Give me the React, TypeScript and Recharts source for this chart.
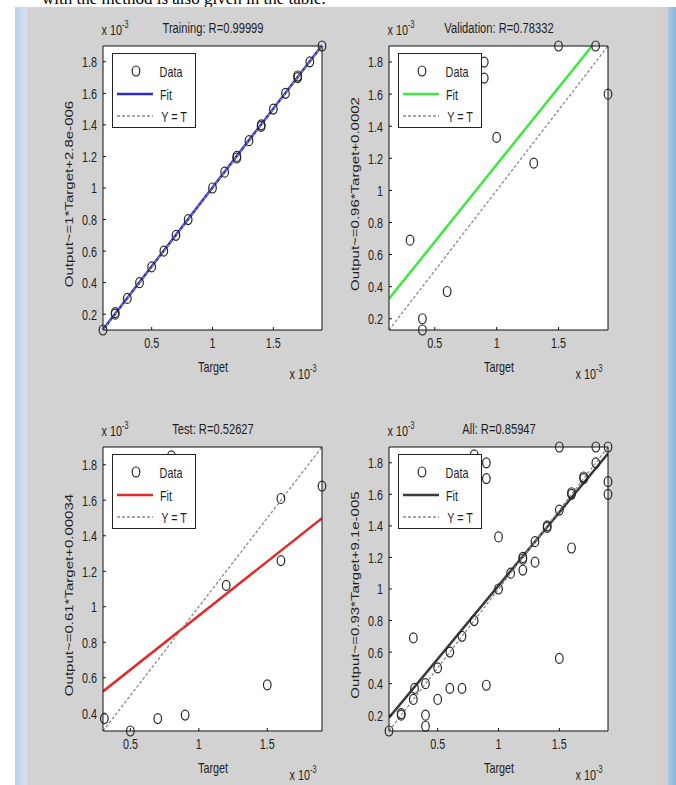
import React from "react";
import { ScatterChart, Scatter, XAxis, YAxis, ReferenceLine, CartesianGrid } from "recharts";

// all values in units of 1e-3
const X_TICKS = [0.5, 1, 1.5];
const Y_TICKS = [0.2, 0.4, 0.6, 0.8, 1, 1.2, 1.4, 1.6, 1.8];
const Y_TICKS_TEST = [0.4, 0.6, 0.8, 1, 1.2, 1.4, 1.6, 1.8];

const TRAIN_T = [0.1, 0.2, 0.2, 0.3, 0.4, 0.5, 0.6, 0.7, 0.8, 1.0, 1.1, 1.2, 1.2, 1.3, 1.4, 1.4, 1.5, 1.6, 1.7, 1.7, 1.8, 1.9];
const TRAIN_Y = [0.1, 0.2, 0.21, 0.3, 0.4, 0.5, 0.6, 0.7, 0.8, 1.0, 1.1, 1.2, 1.19, 1.3, 1.4, 1.39, 1.5, 1.6, 1.7, 1.71, 1.8, 1.9];

const VAL_T = [0.3, 0.4, 0.4, 0.6, 0.9, 0.9, 1.0, 1.3, 1.5, 1.8, 1.9];
const VAL_Y = [0.69, 0.2, 0.13, 0.37, 1.8, 1.7, 1.33, 1.17, 1.9, 1.9, 1.6];

const TEST_T = [0.31, 0.5, 0.7, 0.8, 0.9, 1.2, 1.5, 1.6, 1.6, 1.9];
const TEST_Y = [0.37, 0.3, 0.37, 1.85, 0.39, 1.12, 0.56, 1.26, 1.61, 1.68];

const ALL_T = [...TRAIN_T, ...VAL_T, ...TEST_T];
const ALL_Y = [...TRAIN_Y, ...VAL_Y, ...TEST_Y];

const SQ = 0.72; // the screenshot is squeezed sideways
const FONT = "'Liberation Sans', Arial, sans-serif";
const PW = 219;
const PH = 284;
const ML = 64;
const MT = 28;
const MR = 16;
const MB = 50;
const DIAG = "#8a8a8a";

function SqTick(props: any) {
  const { x, y, payload, textAnchor } = props;
  const dy = textAnchor === "middle" ? "0.71em" : "0.36em";
  return (
    <g transform={`translate(${x},${y}) scale(${SQ},1)`}>
      <text x={0} y={0} dy={dy} textAnchor={textAnchor} fontSize={15} fill="#222" fontFamily={FONT}>
        {payload.value}
      </text>
    </g>
  );
}

const Ring = (p: any) => (
  <ellipse cx={p.cx} cy={p.cy} rx={3.8} ry={5} fill="none" stroke="#262626" strokeWidth={1.2} />
);

function Txt({ x, y, children, rot, size = 15 }: any) {
  return (
    <div
      style={{
        position: "absolute",
        left: x,
        top: y,
        whiteSpace: "nowrap",
        fontFamily: FONT,
        fontSize: size,
        lineHeight: 1,
        color: "#1e1e1e",
        transform: rot ? `translate(-50%,-50%) rotate(-90deg) scale(1,${SQ})` : `translate(-50%,-50%) scale(${SQ},1)`,
      }}
    >
      {children}
    </div>
  );
}

function Exp() {
  return (
    <span>
      x 10<sup style={{ fontSize: 10, verticalAlign: 7 }}>-3</sup>
    </span>
  );
}

function LegendBox({ x, y, color }: any) {
  return (
    <div style={{ position: "absolute", left: x, top: y, width: 84, height: 75, background: "#fff", border: "1px solid #222", boxSizing: "border-box" }}>
      <svg width={84} height={75} style={{ position: "absolute", left: -1, top: -1 }}>
        <ellipse cx={24} cy={18} rx={3.8} ry={5} fill="none" stroke="#262626" strokeWidth={1.2} />
        <line x1={5} x2={41} y1={41} y2={41} stroke={color} strokeWidth={2.5} />
        <line x1={5} x2={41} y1={63} y2={63} stroke={DIAG} strokeWidth={1.3} strokeDasharray="3 2" />
      </svg>
      <Txt x={58} y={17}>Data</Txt>
      <Txt x={53} y={40}>Fit</Txt>
      <Txt x={61} y={62}>Y = T</Txt>
    </div>
  );
}

function Panel({ left, top, title, ylabel, t, y, lo, hi, slope, icpt, color, yTicks }: any) {
  const pts = t.map((v: number, i: number) => ({ x: v, y: y[i] }));
  const axisStyle = { stroke: "#111" };
  return (
    <>
      <div style={{ position: "absolute", left: left - ML, top: top - MT }}>
        <ScatterChart width={ML + PW + MR} height={MT + PH + MB} margin={{ top: MT - 1, right: MR - 1, bottom: 0, left: 0 }}>
          <CartesianGrid fill="#fff" stroke="none" />
          <XAxis type="number" dataKey="x" domain={[lo, hi]} ticks={X_TICKS} height={MB} tickSize={-3} tickMargin={10}
            axisLine={axisStyle} tickLine={axisStyle} tick={<SqTick />} interval={0} />
          <XAxis xAxisId="top" orientation="top" type="number" domain={[lo, hi]} ticks={X_TICKS} height={1} tickSize={-3}
            axisLine={axisStyle} tickLine={axisStyle} tick={false} interval={0} />
          <YAxis type="number" dataKey="y" domain={[lo, hi]} ticks={yTicks} width={ML} tickSize={-3} tickMargin={9}
            axisLine={axisStyle} tickLine={axisStyle} tick={<SqTick />} interval={0} />
          <YAxis yAxisId="right" orientation="right" type="number" domain={[lo, hi]} ticks={yTicks} width={1} tickSize={-3}
            axisLine={axisStyle} tickLine={axisStyle} tick={false} interval={0} />
          <ReferenceLine segment={[{ x: lo, y: slope * lo + icpt }, { x: hi, y: slope * hi + icpt }]}
            stroke={color} strokeWidth={2.5} ifOverflow="hidden" />
          <ReferenceLine segment={[{ x: lo, y: lo }, { x: hi, y: hi }]} stroke={DIAG} strokeWidth={1.3}
            strokeDasharray="3 2" ifOverflow="hidden" />
          <Scatter data={pts} shape={Ring} isAnimationActive={false} />
        </ScatterChart>
      </div>
      <LegendBox x={left + 9} y={top + 7} color={color} />
      <Txt x={left + PW / 2} y={top - 18} size={15.5}>{title}</Txt>
      <Txt x={left + 12} y={top - 18}><Exp /></Txt>
      <Txt x={left - 34} y={top + PH / 2 + 6} rot>{ylabel}</Txt>
      <Txt x={left + PW / 2} y={top + PH + 36}>Target</Txt>
      <Txt x={left + 200} y={top + PH + 42}><Exp /></Txt>
    </>
  );
}

export default function App() {
  return (
    <div style={{ position: "absolute", left: 0, top: 0, width: 676, height: 785, overflow: "hidden", background: "#fff" }}>
      <div style={{ position: "absolute", left: 42, top: -11, fontFamily: "'Liberation Serif', 'Times New Roman', serif", fontSize: 17, lineHeight: "20px", whiteSpace: "nowrap" }}>
        with the method is also given in the table.
      </div>
      <div style={{ position: "absolute", left: 15, top: 7, width: 12, height: 778, background: "linear-gradient(90deg,#b9d0e8,#d5e2ee)" }} />
      <div style={{ position: "absolute", left: 27, top: 7, width: 628, height: 778, background: "#d2d2d2" }} />
      <div style={{ position: "absolute", left: 655, top: 7, width: 13, height: 778, background: "#d6cfcf" }} />
      <div style={{ position: "absolute", left: 668, top: 7, width: 8, height: 778, background: "linear-gradient(90deg,#a8c9e6,#8fb6d8)" }} />

      <Panel left={103} top={46} title="Training: R=0.99999" ylabel="Output~=1*Target+2.8e-006"
        t={TRAIN_T} y={TRAIN_Y} lo={0.1} hi={1.9} slope={1} icpt={0.0028} color="#2b2bd0" yTicks={Y_TICKS} />
      <Panel left={389} top={46} title="Validation: R=0.78332" ylabel="Output~=0.96*Target+0.0002"
        t={VAL_T} y={VAL_Y} lo={0.13} hi={1.9} slope={0.96} icpt={0.2} color="#3ee83e" yTicks={Y_TICKS} />
      <Panel left={103} top={447} title="Test: R=0.52627" ylabel="Output~=0.61*Target+0.00034"
        t={TEST_T} y={TEST_Y} lo={0.3} hi={1.9} slope={0.61} icpt={0.34} color="#e02a2a" yTicks={Y_TICKS_TEST} />
      <Panel left={389} top={447} title="All: R=0.85947" ylabel="Output~=0.93*Target+9.1e-005"
        t={ALL_T} y={ALL_Y} lo={0.1} hi={1.9} slope={0.93} icpt={0.091} color="#3a3a3a" yTicks={Y_TICKS} />
    </div>
  );
}
